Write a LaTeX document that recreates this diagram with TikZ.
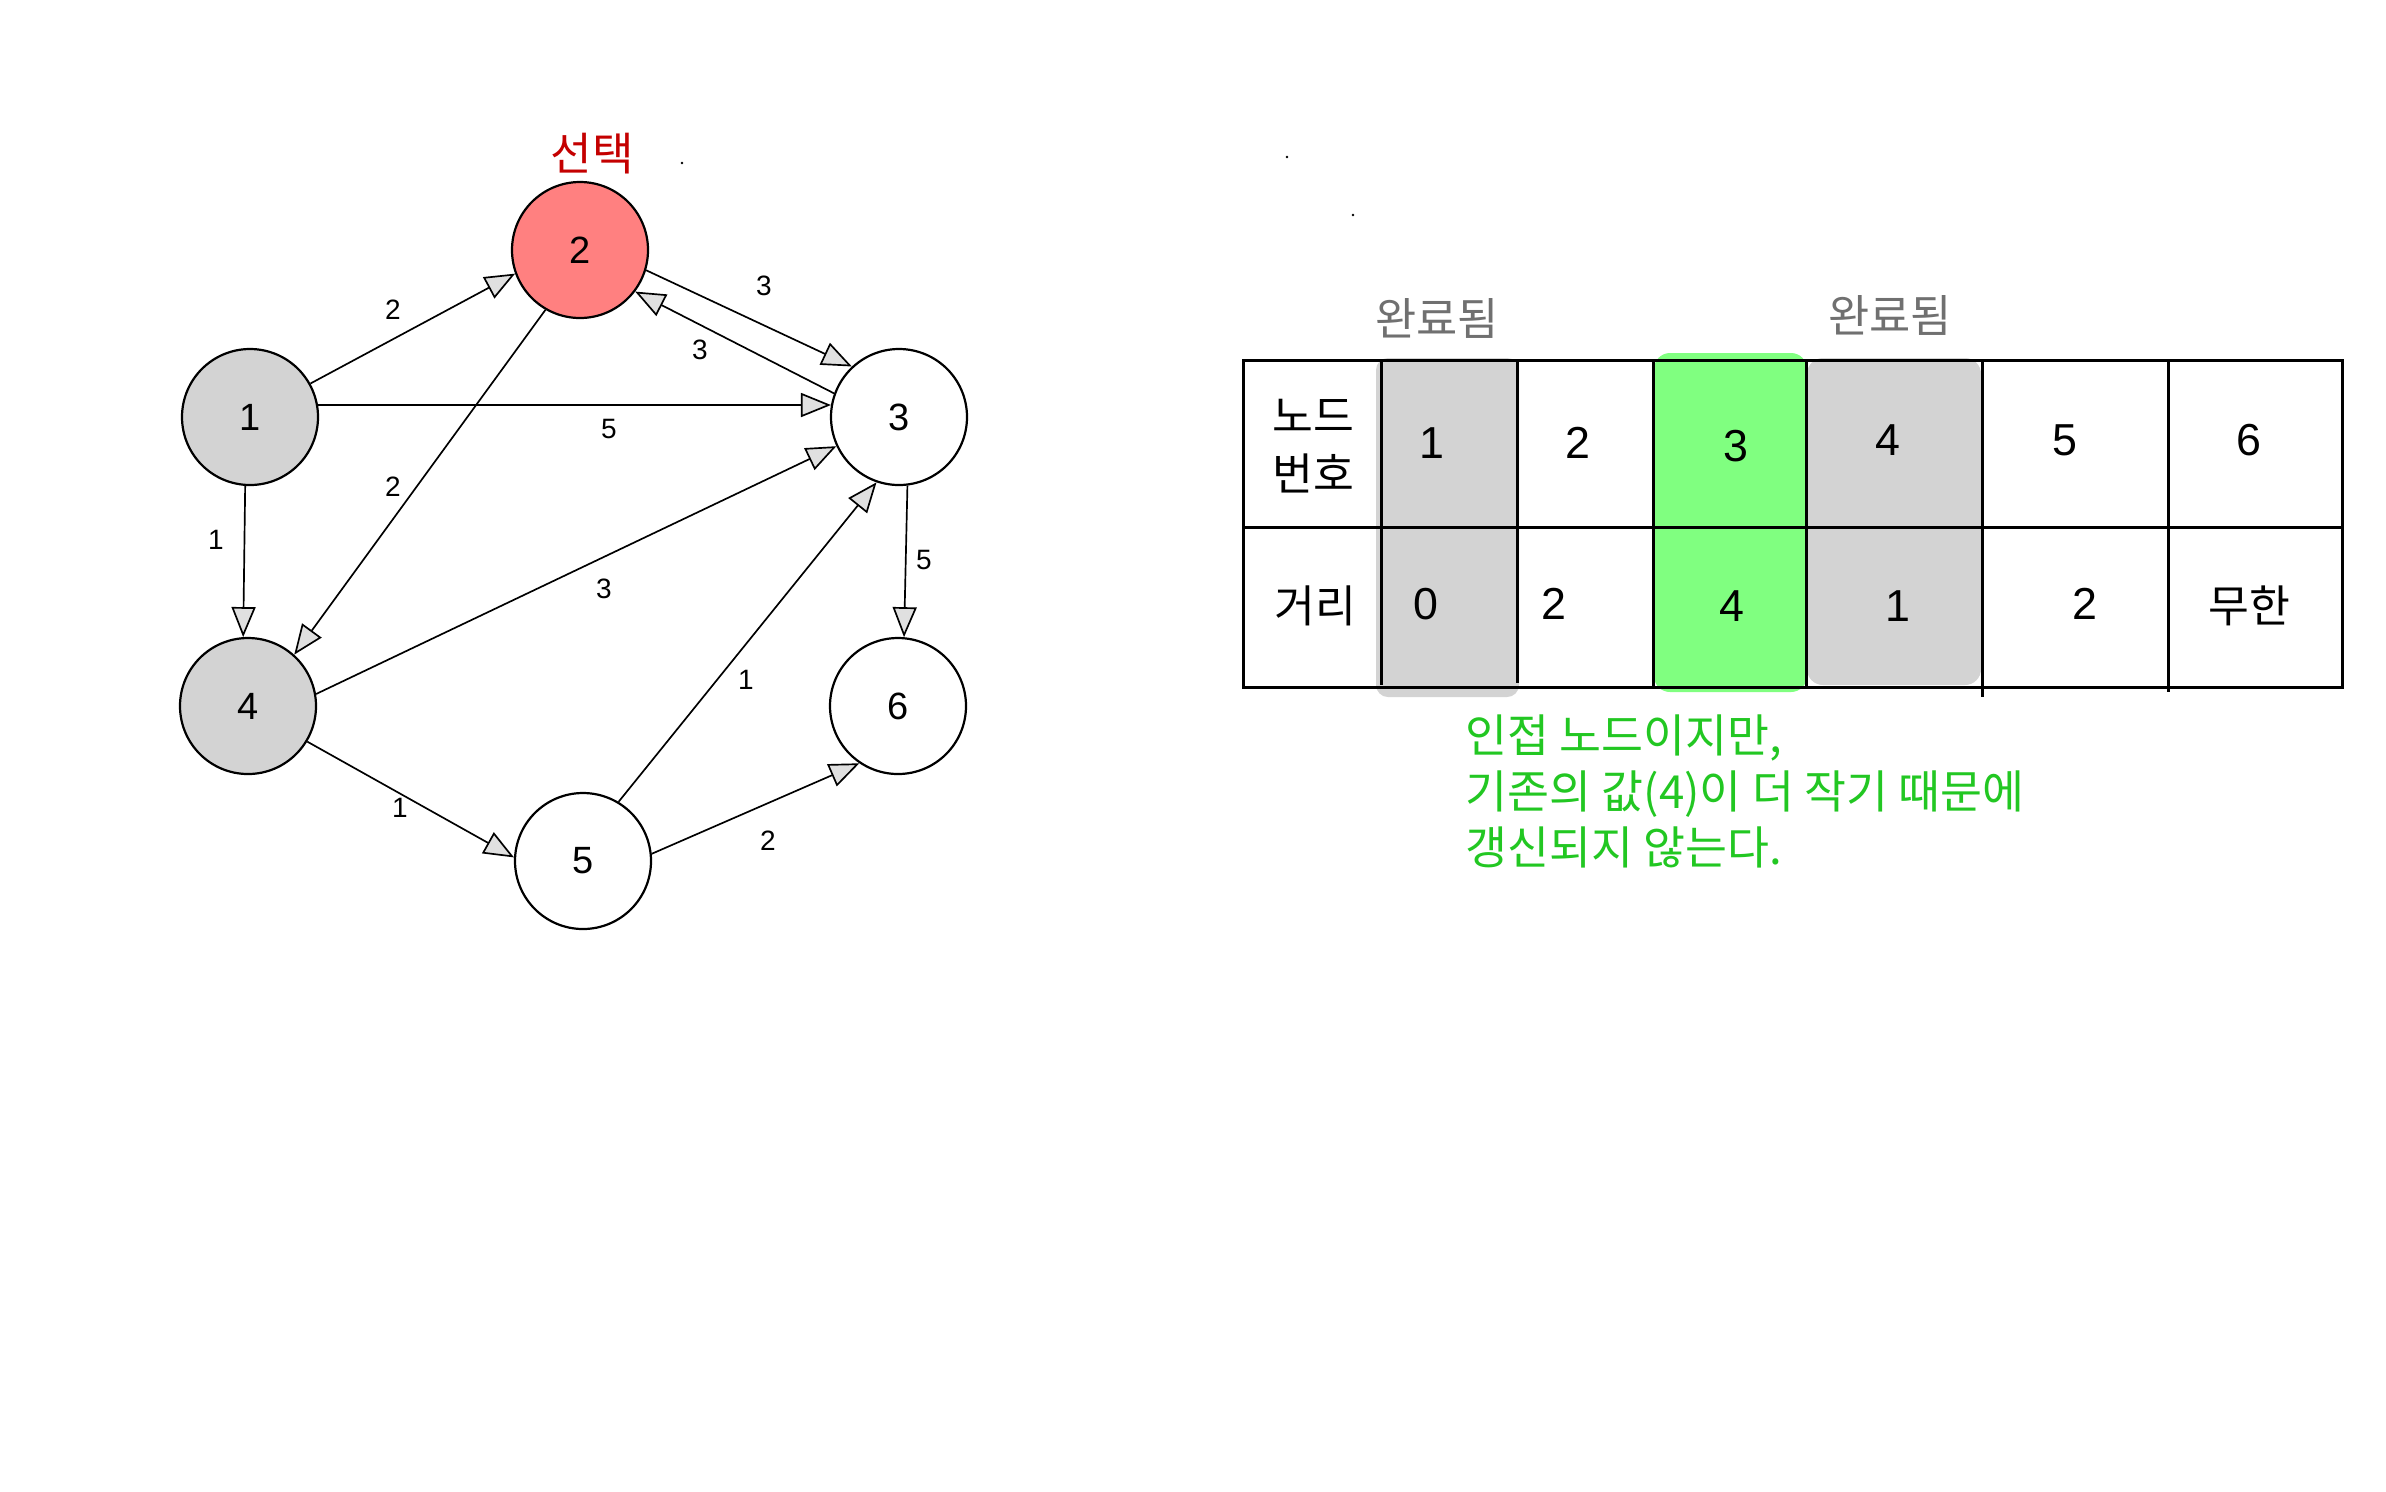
\documentclass[tikz,border=0pt]{standalone}
\usepackage{fontspec}
\setmainfont{Liberation Sans}
\newfontfamily\cjk{Noto Sans CJK KR}
\usetikzlibrary{arrows.meta}
\definecolor{nodegrey}{HTML}{D3D3D3}
\definecolor{nodered}{HTML}{FF8080}
\definecolor{hlgreen}{HTML}{80FF80}
\definecolor{textgreen}{HTML}{22C722}
\definecolor{textred}{HTML}{C40000}
\definecolor{labelgrey}{HTML}{707070}
\begin{document}
\begin{tikzpicture}[x=0.25pt,y=-0.25pt,
  vertex/.style={circle, draw=black, line width=0.55pt, minimum size=34pt, inner sep=0pt, font=\fontsize{9.5}{11}\selectfont},
  edge/.style={line width=0.42pt, -{Triangle[length=7.5pt,width=6pt,fill=black!12,line width=0.42pt]}},
  wlabel/.style={font=\fontsize{7}{8}\selectfont, inner sep=0pt},
  tline/.style={line width=0.75pt},
  cell/.style={font=\fontsize{11.2}{13}\selectfont, inner sep=0pt},
  kcell/.style={font=\cjk\fontsize{11.1}{14.5}\selectfont, inner sep=0pt, align=center},
  done/.style={font=\cjk\fontsize{11.2}{12}\selectfont, text=labelgrey, inner sep=0pt}]
\useasboundingbox[fill=white] (0,0) rectangle (2386,1491);

% graph nodes
\node[vertex, fill=nodegrey] (n1) at (250,417) {1};
\node[vertex, fill=nodered]  (n2) at (580,250) {2};
\node[vertex]                (n3) at (899,417) {3};
\node[vertex, fill=nodegrey] (n4) at (248,706) {4};
\node[vertex]                (n5) at (583,861) {5};
\node[vertex]                (n6) at (898,706) {6};

\node[font=\cjk\fontsize{11.3}{12}\selectfont, text=textred, inner sep=0pt] (sel) at (592,154) {선택};

% edges
\draw[edge] (n1.29)  -- (n2.200);
\draw[edge] (n2.-17) -- (n3.133);
\draw[edge] (n3.160) -- (n2.-37);
\draw[edge] (n1.10)  -- (n3.170);
\draw[edge] (n2.240) -- (n4.48);
\draw[edge] (n1.266) -- (n4.94);
\draw[edge] (n4.10)  -- (n3.205);
\draw[edge] (n3.277) -- (n6.85);
\draw[edge] (n5.59)  -- (n3.251);
\draw[edge] (n4.-31) -- (n5.177);
\draw[edge] (n5.6)   -- (n6.236);

% edge weights
\node[wlabel] (w12) at (393,310) {2};
\node[wlabel] (w23) at (764,286) {3};
\node[wlabel] (w32) at (700,350) {3};
\node[wlabel] (w13) at (609,429) {5};
\node[wlabel] (w24) at (393,487) {2};
\node[wlabel] (w14) at (216,540) {1};
\node[wlabel] (w43) at (604,589) {3};
\node[wlabel] (w36) at (924,560) {5};
\node[wlabel] (w53) at (746,680) {1};
\node[wlabel] (w45) at (400,808) {1};
\node[wlabel] (w56) at (768,841) {2};

% stray dots
\fill (682,163) circle[radius=0.35pt];
\fill (1287,157) circle[radius=0.35pt];
\fill (1353,215) circle[radius=0.35pt];

% table highlights
\fill[nodegrey, rounded corners=3pt] (1376,358) rectangle (1519,697);
\fill[hlgreen, rounded corners=4pt] (1654,353) rectangle (1807,692);
\fill[nodegrey, rounded corners=4pt] (1807,358) rectangle (1981,685);

% table lines
\draw[tline] (1243,360) rectangle (2342,687);
\draw[tline] (1243,527) -- (2342,527);
\draw[tline] (1381,360) -- (1381,685);
\draw[tline] (1517,360) -- (1517,683);
\draw[tline] (1653,360) -- (1653,687);
\draw[tline] (1806,360) -- (1806,687);
\draw[tline] (1982,360) -- (1982,697);
\draw[tline] (2168,360) -- (2168,692);

% table text
\node[done] (done1) at (1437,318) {완료됨};
\node[done] (done4) at (1890,315) {완료됨};
\node[kcell] (hnode) at (1313,446) {노드\\번호};
\node[kcell] (hdist) at (1315,606) {거리};
\node[cell] (c1) at (1432,443) {1};
\node[cell] (c2) at (1578,443) {2};
\node[cell] (c3) at (1736,446) {3};
\node[cell] (c4) at (1888,440) {4};
\node[cell] (c5) at (2065,440) {5};
\node[cell] (c6) at (2249,440) {6};
\node[cell] (d1) at (1426,604) {0};
\node[cell] (d2) at (1554,604) {2};
\node[cell] (d3) at (1732,606) {4};
\node[cell] (d4) at (1898,606) {1};
\node[cell] (d5) at (2085,604) {2};
\node[kcell] (d6) at (2249,606) {무한};

% note
\node[font=\cjk\fontsize{11.4}{14}\selectfont, text=textgreen, align=left, anchor=west, inner sep=0pt] (note) at (1465,791)
  {인접 노드이지만,\\기존의 값(4)이 더 작기 때문에\\갱신되지 않는다.};
\end{tikzpicture}
\end{document}
